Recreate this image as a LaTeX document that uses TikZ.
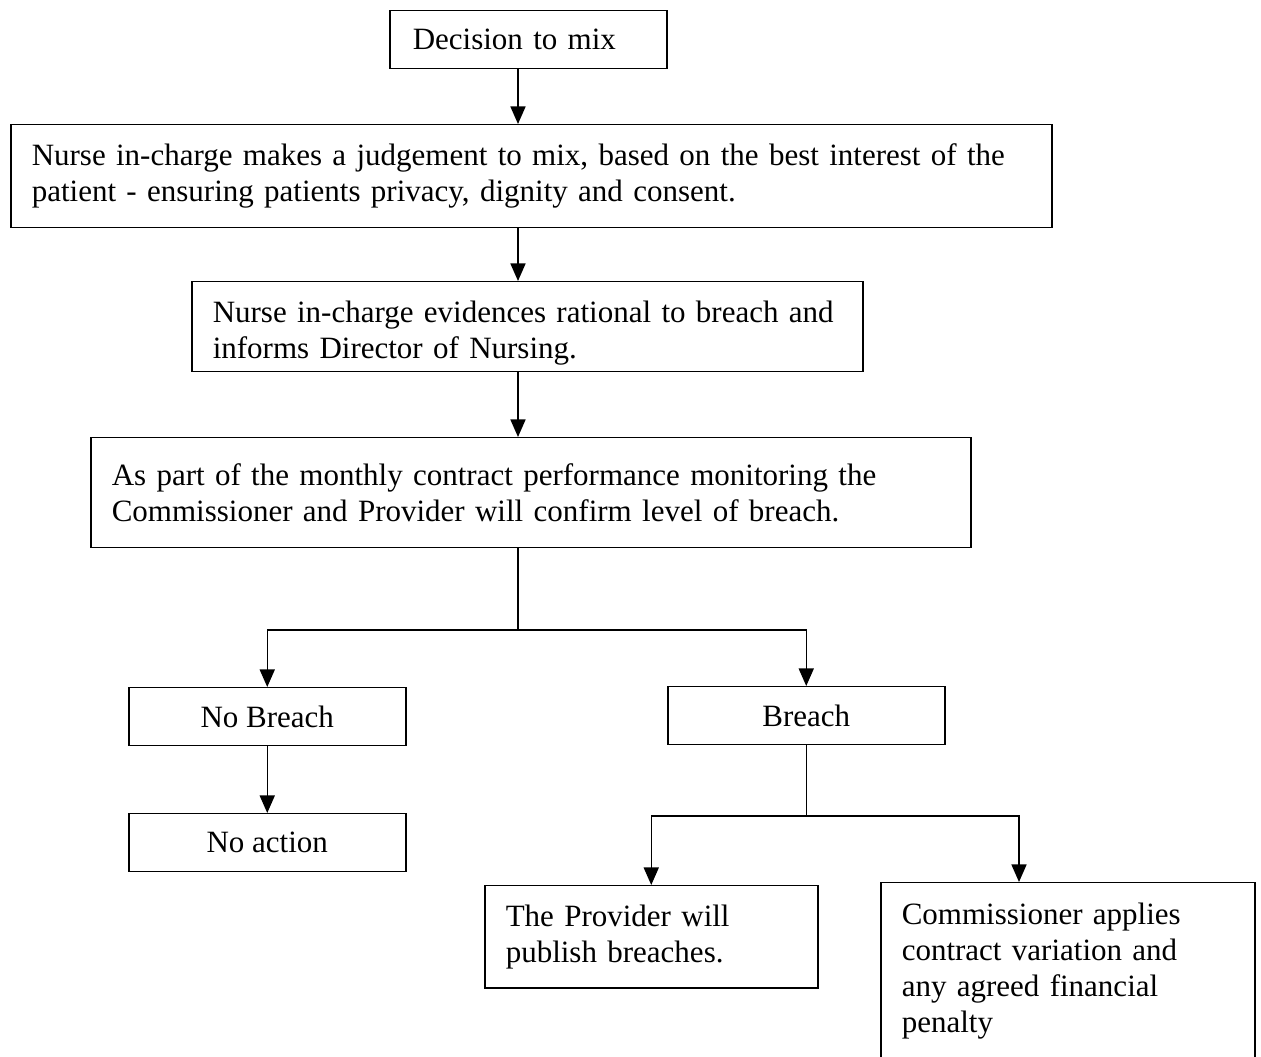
\documentclass[tikz,border=0pt]{standalone}
\usepackage{fontspec}
\setmainfont{Liberation Serif}
\usetikzlibrary{arrows.meta}

\begin{document}
\begin{tikzpicture}[x=0.4pt,y=0.4pt,yscale=-1,xscale=1,
		every node/.style={font=\fontsize{12.4pt}{14.4pt}\selectfont},
		box/.style={draw, line width=0.6pt, anchor=north west, inner ysep=0pt, inner xsep=8.4pt, align=left},
		choice/.style={draw, line width=0.6pt, anchor=north west, inner sep=0pt, minimum width=110.8pt, minimum height=23.2pt, align=center},
		flow/.style={line width=0.6pt, -{Triangle[length=7pt,width=6pt]}},
		link/.style={line width=0.6pt}]
		\useasboundingbox (0,0) rectangle (1261,1057);
		\clip (0,0) rectangle (1261,1057);

		%Shape: Rectangle [decision]
		\node [box, inner xsep=9.2pt, text width=92.4pt, minimum height=23.2pt] (decide) at (389,10) {Decision to mix};
		%Shape: Rectangle [judgement]
		\node [box, text width=399.6pt, minimum height=41.2pt] (judge) at (10,124) {Nurse in-charge makes a judgement to mix, based on the best interest of the\\patient - ensuring patients privacy, dignity and consent.};
		%Shape: Rectangle [rationale]
		\node [box, text width=251.6pt, minimum height=36pt, text height=14pt] (inform) at (191,281) {Nurse in-charge evidences rational to breach and\\informs Director of Nursing.};
		%Shape: Rectangle [monthly review]
		\node [box, text width=335.2pt, minimum height=44pt] (monitor) at (90,437) {As part of the monthly contract performance monitoring the\\Commissioner and Provider will confirm level of breach.};

		%Shape: Rectangle [outcomes]
		\node [choice] (nobreach) at (128,687) {No Breach};
		\node [choice] (breach) at (667,686) {Breach};
		\node [choice] (noaction) at (128,813) {No action};

		%Shape: Rectangle [actions on breach]
		\node [box, text width=116.4pt, minimum height=40.8pt] (publish) at (484,885) {The Provider will\\publish breaches.};
		\node [box, text width=132.8pt, minimum height=70.8pt] (penalty) at (880,882) {Commissioner applies\\contract variation and\\any agreed financial\\penalty};

		%Straight Lines [main spine]
		\coordinate (spine) at (518,0);
		\coordinate (split) at (518,630);
		\draw [flow] (decide.south -| spine) -- (judge.north -| spine);
		\draw [flow] (judge.south -| spine) -- (inform.north -| spine);
		\draw [flow] (inform.south -| spine) -- (monitor.north -| spine);
		\draw [link] (monitor.south -| spine) -- (split);
		\draw [flow] (split) -| (nobreach.north);
		\draw [flow] (split) -| (breach.north);
		\draw [flow] (nobreach) -- (noaction);

		%Straight Lines [breach branch]
		\coordinate (fork) at (0,816);
		\coordinate (penaltyin) at (1019,0);
		\draw [link] (breach.south) -- (breach.south |- fork);
		\draw [flow] (breach.south |- fork) -| (publish.north);
		\draw [flow] (breach.south |- fork) -| (penalty.north -| penaltyin);

	\end{tikzpicture}
\end{document}
